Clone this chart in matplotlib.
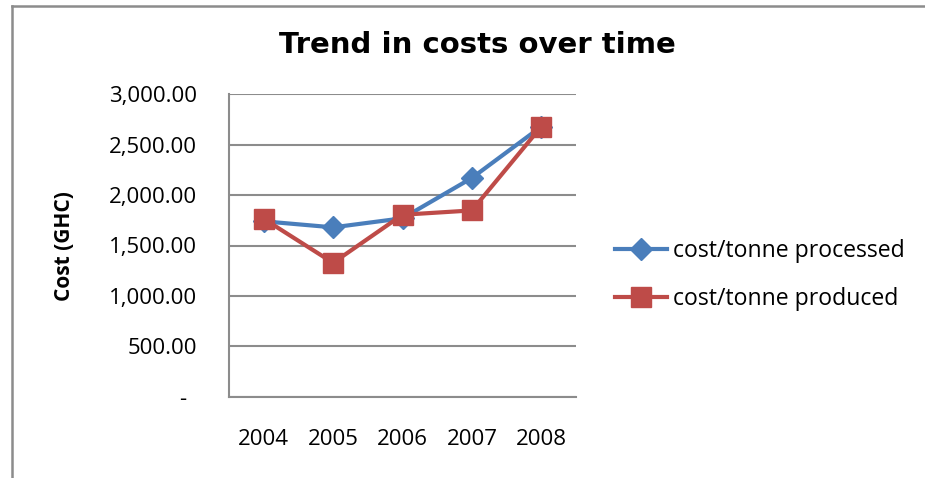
import matplotlib.pyplot as plt
from matplotlib.lines import Line2D
from matplotlib.transforms import ScaledTranslation

# data
years = ['2004', '2005', '2006', '2007', '2008']
processed = [1740, 1680, 1770, 2170, 2680]
produced = [1765, 1328, 1805, 1848, 2680]
yticks = [0, 500, 1000, 1500, 2000, 2500, 3000]
ytick_labels = ['-', '500.00', '1,000.00', '1,500.00', '2,000.00', '2,500.00', '3,000.00']

blue = '#4A7EBB'
red = '#BE4B48'
grid = '#8C8C8C'

plt.rcParams['font.family'] = ['Open Sans', 'DejaVu Sans']

fig = plt.figure(figsize=(9.25, 4.78), dpi=100)
ax = fig.add_axes([229/925, 1 - 396.7/478, 347/925, (396.7 - 94.3)/478])

x = range(len(years))
ax.plot(x, processed, color=blue, lw=3, marker='D', ms=11.5, label='cost/tonne processed', zorder=3)
ax.plot(x, produced, color=red, lw=3, marker='s', ms=14, label='cost/tonne produced', zorder=4)

ax.set_xlim(-0.5, len(years) - 0.5)
ax.set_ylim(0, 3000)
ax.set_xticks(list(x))
ax.set_xticklabels(years)
ax.set_yticks(yticks)
ax.set_yticklabels(ytick_labels)
ax.tick_params(axis='both', length=0, labelsize=16)
ax.tick_params(axis='x', pad=23)
ax.tick_params(axis='y', pad=23)

ax.yaxis.grid(True, color=grid, lw=1.5)
ax.set_axisbelow(True)
for s in ['top', 'right']:
    ax.spines[s].set_visible(False)
for s in ['left', 'bottom']:
    ax.spines[s].set_color(grid)
    ax.spines[s].set_linewidth(1.5)

# shift the "-" for zero like the accounting format
zero_lbl = ax.yaxis.get_major_ticks()[0].label1
zero_lbl.set_transform(zero_lbl.get_transform() + ScaledTranslation(-11/100, 0, fig.dpi_scale_trans))

fig.text(477/925, 1 - 45/478, 'Trend in costs over time', ha='center', va='center',
         fontsize=21, fontweight='bold', family='DejaVu Sans')
fig.text(65/925, 1 - 246/478, 'Cost (GHC)', ha='center', va='center', rotation=90,
         fontsize=15, fontweight='bold')

ax.legend(loc='center left', bbox_to_anchor=(615/925, 1 - 275/478), bbox_transform=fig.transFigure,
          frameon=False, fontsize=16.6, handlelength=2.25, handletextpad=0.25, labelspacing=1.03,
          borderpad=0, borderaxespad=0)

# chart frame (left and top edges visible)
fig.add_artist(Line2D([12/925, 12/925], [0, 1 - 5.5/478], color='#8C8C8C', lw=1.8, transform=fig.transFigure))
fig.add_artist(Line2D([12/925, 1], [1 - 5.5/478, 1 - 5.5/478], color='#8C8C8C', lw=1.8, transform=fig.transFigure))

fig.savefig('out.png', dpi=100)
